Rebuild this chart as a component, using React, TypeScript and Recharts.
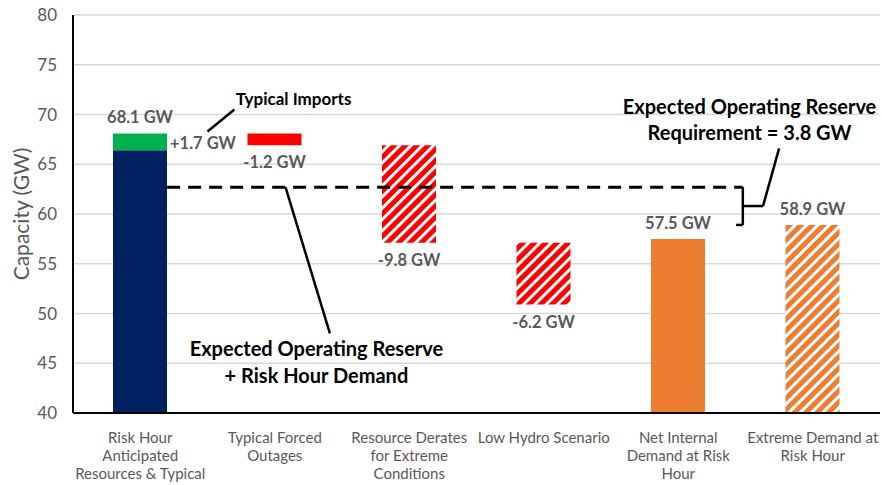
import { BarChart, Bar, XAxis, YAxis, CartesianGrid, LabelList, ReferenceLine, ReferenceDot } from "recharts";

const FONT = "Lato, 'Open Sans', sans-serif";
const GRAY = "#595959";

const categories = [
  "Risk Hour\nAnticipated\nResources & Typical",
  "Typical Forced\nOutages",
  "Resource Derates\nfor Extreme\nConditions",
  "Low Hydro Scenario",
  "Net Internal\nDemand at Risk\nHour",
  "Extreme Demand at\nRisk Hour",
];

const anticipatedResources = 66.4;
const typicalImports = 1.7;
// forced outages, extreme-condition derates, low hydro
const reductions = [-1.2, -9.8, -6.2];
const hatchedReductions = [false, true, true];
const netInternalDemand = 57.5;
const extremeDemand = 58.9;
const reserveRequirement = 3.8;
const yTicks = [40, 45, 50, 55, 60, 65, 70, 75, 80];

const gw = (v: number, sign = false) => `${sign && v > 0 ? "+" : ""}${v.toFixed(1)} GW`;

const rows: any[] = categories.map((name, i) => ({ name, pos: i + 0.5 }));
rows[0].navy = anticipatedResources;
rows[0].green = typicalImports;
rows[0].greenTop = gw(anticipatedResources + typicalImports);
rows[0].greenSide = gw(typicalImports, true);
let level = anticipatedResources + typicalImports;
reductions.forEach((d, i) => {
  const r = rows[i + 1];
  level += d;
  r.base = level;
  if (hatchedReductions[i]) {
    r.redH = -d;
    r.redHLabel = gw(d);
  } else {
    r.red = -d;
    r.redLabel = gw(d);
  }
});
rows[4].orange = netInternalDemand;
rows[4].orangeLabel = gw(netInternalDemand);
rows[5].orangeH = extremeDemand;
rows[5].orangeHLabel = gw(extremeDemand);

// reserve level shown by the dashed line
const reserveLevel = extremeDemand + reserveRequirement;
const bracketMid = reserveLevel - reserveRequirement / 2;

// annotation positions on a hidden 0..6 axis (one unit per category)
const leaders: [number, number, number, number, boolean][] = [
  [0.7, reserveLevel, 4.98, reserveLevel, true],
  [4.98, reserveLevel, 4.98, extremeDemand, false],
  [4.93, extremeDemand, 4.98, extremeDemand, false],
  [4.98, bracketMid, 5.13, bracketMid, false],
  [5.13, bracketMid, 5.25, 66.6, false],
  [1.58, reserveLevel, 1.91, 48.0, false],
  [1.0, 68.3, 1.2, 70.5, false],
];

const notes: [number, number, string, number][] = [
  [1.64, 71.6, "Typical Imports", 17],
  [5.03, 70.9, "Expected Operating Reserve", 20],
  [5.03, 68.2, `Requirement = ${reserveRequirement} GW`, 20],
  [1.81, 46.5, "Expected Operating Reserve", 20],
  [1.81, 43.8, "+ Risk Hour Demand", 20],
];

const CategoryTick = ({ x, y, payload }: any) => {
  const lines = String(payload.value).split("\n");
  return (
    <text x={x} y={y} textAnchor="middle" fill={GRAY} fontSize={15} fontFamily={FONT}>
      {lines.map((l, i) => (
        <tspan key={i} x={x} dy={i === 0 ? 28 : 18}>
          {l}
        </tspan>
      ))}
    </text>
  );
};

// bar value label: where = top | bottom | right
const valueLabel = (where: string) => (p: any) => {
  if (p.value === undefined || p.value === null) return null;
  const w = p.width ?? p.viewBox?.width;
  const h = p.height ?? p.viewBox?.height;
  const bx = p.x ?? p.viewBox?.x;
  const by = p.y ?? p.viewBox?.y;
  let x = bx + w / 2;
  let y = by - 16;
  let anchor = "middle";
  if (where === "bottom") y = by + h + 17;
  if (where === "right") {
    x = bx + w + 3;
    y = by + h / 2 + 1;
    anchor = "start";
  }
  return (
    <text x={x} y={y} textAnchor={anchor} dominantBaseline="central" fill={GRAY} fontSize={16.5} fontWeight={700} fontFamily={FONT}>
      {p.value}
    </text>
  );
};

export default function App() {
  return (
    <div style={{ position: "absolute", left: 0, top: 0, fontFamily: FONT }}>
      <svg width={0} height={0} style={{ position: "absolute" }}>
        <defs>
          <pattern id="hatchRed" width={8} height={8} patternUnits="userSpaceOnUse" patternTransform="rotate(45)">
            <rect width={8} height={8} fill="#ff0000" />
            <rect width={3} height={8} fill="#ffffff" />
          </pattern>
          <pattern id="hatchOrange" width={8} height={8} patternUnits="userSpaceOnUse" patternTransform="rotate(45)">
            <rect width={8} height={8} fill="#ed7d31" />
            <rect width={3} height={8} fill="#ffffff" />
          </pattern>
        </defs>
      </svg>
      <BarChart width={882} height={485} data={rows} margin={{ top: 15, right: 2, bottom: 0, left: 0 }} barSize={54}>
        <CartesianGrid vertical={false} stroke="#d9d9d9" strokeWidth={1.5} />
        <XAxis
          dataKey="name"
          interval={0}
          height={72}
          tickLine={false}
          tickSize={0}
          axisLine={{ stroke: "#000", strokeWidth: 2 }}
          tick={<CategoryTick />}
        />
        <XAxis
          xAxisId="num"
          dataKey="pos"
          type="number"
          domain={[0, 6]}
          ticks={[0, 1, 2, 3, 4, 5, 6]}
          allowDataOverflow
          hide
        />
        <YAxis
          domain={[40, 80]}
          ticks={yTicks}
          allowDataOverflow
          width={73}
          tickLine={false}
          tickSize={0}
          tickMargin={16}
          axisLine={{ stroke: "#000", strokeWidth: 2 }}
          tick={{ fill: GRAY, fontSize: 17, fontFamily: FONT }}
          label={{
            content: ({ viewBox }: any) => {
              const cx = viewBox.x + 20;
              const cy = viewBox.y + viewBox.height / 2;
              return (
                <text
                  x={cx}
                  y={cy}
                  transform={`rotate(-90 ${cx} ${cy})`}
                  textAnchor="middle"
                  dominantBaseline="central"
                  fill={GRAY}
                  fontSize={21}
                  fontFamily={FONT}
                >
                  Capacity (GW)
                </text>
              );
            },
          }}
        />
        <Bar dataKey="base" stackId="s" fill="transparent" isAnimationActive={false} />
        <Bar dataKey="navy" stackId="s" fill="#002060" isAnimationActive={false} />
        <Bar dataKey="green" stackId="s" fill="#00b050" isAnimationActive={false}>
          <LabelList dataKey="greenTop" content={valueLabel("top")} />
          <LabelList dataKey="greenSide" content={valueLabel("right")} />
        </Bar>
        <Bar dataKey="red" stackId="s" fill="#ff0000" isAnimationActive={false}>
          <LabelList dataKey="redLabel" content={valueLabel("bottom")} />
        </Bar>
        <Bar dataKey="redH" stackId="s" fill="url(#hatchRed)" isAnimationActive={false}>
          <LabelList dataKey="redHLabel" content={valueLabel("bottom")} />
        </Bar>
        <Bar dataKey="orange" stackId="s" fill="#ed7d31" isAnimationActive={false}>
          <LabelList dataKey="orangeLabel" content={valueLabel("top")} />
        </Bar>
        <Bar dataKey="orangeH" stackId="s" fill="url(#hatchOrange)" isAnimationActive={false}>
          <LabelList dataKey="orangeHLabel" content={valueLabel("top")} />
        </Bar>
        {leaders.map(([x1, y1, x2, y2, dashed], i) => (
          <ReferenceLine
            key={`l${i}`}
            xAxisId="num"
            segment={[
              { x: x1, y: y1 },
              { x: x2, y: y2 },
            ]}
            stroke="#000"
            strokeWidth={dashed ? 3 : 2.5}
            strokeDasharray={dashed ? "13 8" : undefined}
          />
        ))}
        {notes.map(([x, y, text, size], i) => (
          <ReferenceDot
            key={`n${i}`}
            xAxisId="num"
            x={x}
            y={y}
            r={0}
            stroke="none"
            fill="none"
            label={{
              content: ({ viewBox }: any) => (
                <text
                  x={viewBox.x + viewBox.width / 2}
                  y={viewBox.y + viewBox.height / 2}
                  textAnchor="middle"
                  dominantBaseline="central"
                  fill="#000"
                  fontSize={size}
                  fontWeight={700}
                  fontFamily={FONT}
                >
                  {text}
                </text>
              ),
            }}
          />
        ))}
      </BarChart>
    </div>
  );
}
